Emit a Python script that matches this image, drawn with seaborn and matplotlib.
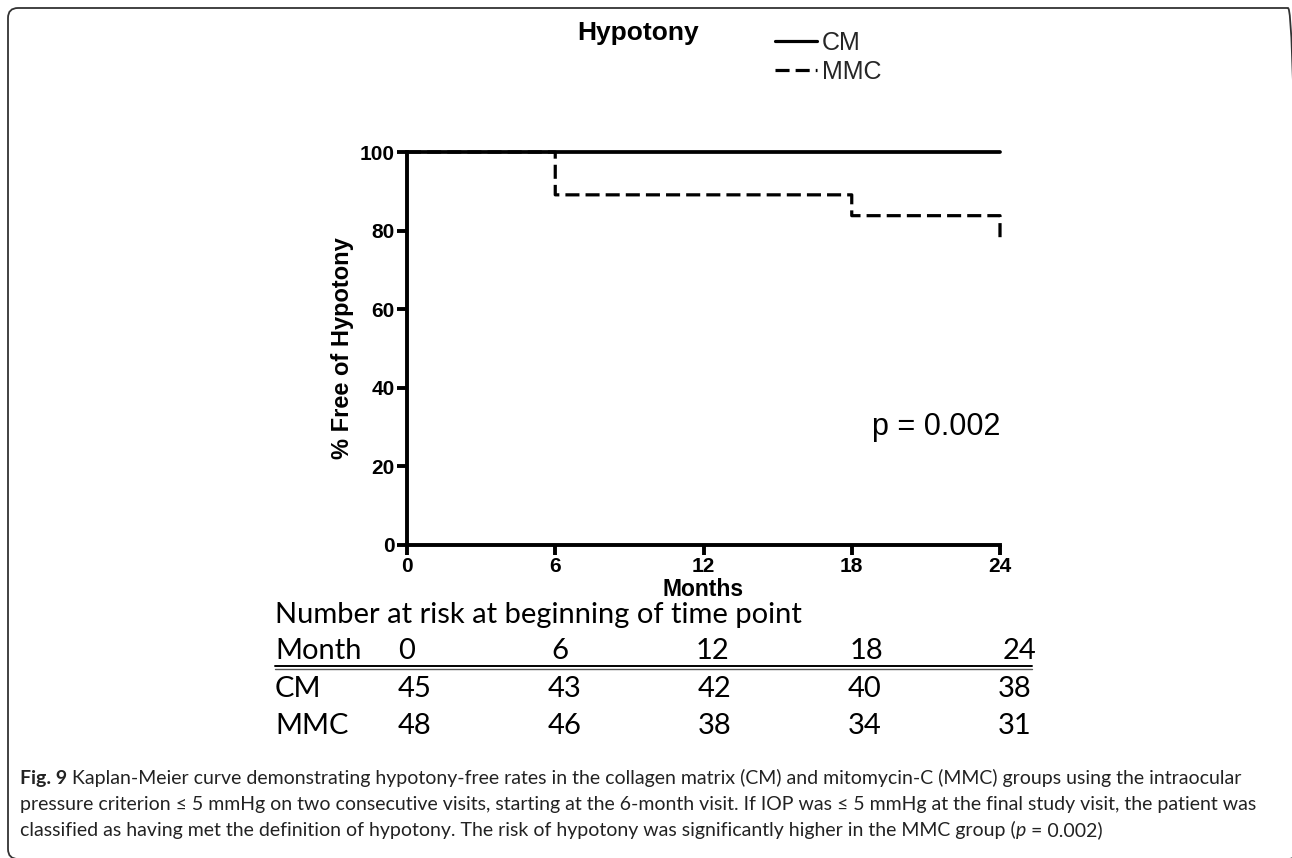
import matplotlib
matplotlib.use("Agg")
import matplotlib.pyplot as plt
import matplotlib.transforms as mtransforms
from matplotlib.patches import FancyBboxPatch
from matplotlib.lines import Line2D
import pandas as pd
import seaborn as sns

# ---------------- data ----------------
months = [0, 6, 12, 18, 24]
cm_time = [0, 24]
cm_surv = [100, 100]
mmc_time = [0, 6, 18, 24]
mmc_surv = [100, 89.1, 83.8, 78.0]
groups = ["CM", "MMC"]
risk_cm = [45, 43, 42, 40, 38]
risk_mmc = [48, 46, 38, 34, 31]
yticks = [0, 20, 40, 60, 80, 100]
title = "Hypotony"
p_text = "p = 0.002"
risk_title = "Number at risk at beginning of time point"
risk_header = "Month"
caption_bold = "Fig. 9"
caption_lines = [
    " Kaplan-Meier curve demonstrating hypotony-free rates in the collagen matrix (CM) and mitomycin-C (MMC) groups using the intraocular",
    "pressure criterion \u2264 5 mmHg on two consecutive visits, starting at the 6-month visit. If IOP was \u2264 5 mmHg at the final study visit, the patient was",
    "classified as having met the definition of hypotony. The risk of hypotony was significantly higher in the MMC group (",
]
caption_end_italic = "p"
caption_end = " = 0.002)"

# ---------------- setup ----------------
W, H = 1292, 858
sns.set_theme(style="ticks")
plt.rcParams["font.family"] = ["Liberation Sans", "DejaVu Sans"]
TABLE_FONT = ["Lato", "DejaVu Sans"]
CAP_FONT = ["Lato", "DejaVu Sans"]

fig = plt.figure(figsize=(W / 100, H / 100), dpi=100)
fig.patch.set_facecolor("white")


def fx(x):
    return x / W


def fy(y):
    return 1 - y / H


ax = fig.add_axes([fx(407), fy(545), fx(1000) - fx(407), fy(152) - fy(545)])
ax.set_facecolor("white")

df = pd.DataFrame({
    "Months": cm_time + mmc_time,
    "Surv": cm_surv + mmc_surv,
    "Group": ["CM"] * len(cm_time) + ["MMC"] * len(mmc_time),
})
sns.lineplot(data=df, x="Months", y="Surv", hue="Group", style="Group",
             palette={"CM": "black", "MMC": "black"},
             dashes={"CM": "", "MMC": (4.4, 1.9)},
             drawstyle="steps-post", estimator=None, linewidth=2.3,
             ax=ax, legend=True)
for ln in ax.lines:
    ln.set_clip_on(False)
    ln.set_snap(False)
if len(ax.lines) >= 2:
    ax.lines[0].set_zorder(3)
    ax.lines[0].set_linewidth(2.7)
    ax.lines[1].set_zorder(2)

handles, labels = ax.get_legend_handles_labels()
ax.get_legend().remove()
fig.legend(handles, labels, loc="upper left", bbox_to_anchor=(fx(775), fy(31)),
           frameon=False, fontsize=18, handlelength=1.66, handletextpad=0.2,
           labelspacing=0.2, borderpad=0, borderaxespad=0)

ax.set_xlim(0, 24)
ax.set_ylim(0, 100)
ax.set_xticks(months)
ax.set_yticks(yticks)
for s in ["top", "right"]:
    ax.spines[s].set_visible(False)
for s in ["left", "bottom"]:
    ax.spines[s].set_linewidth(2.8)
    ax.spines[s].set_color("black")
ax.tick_params(direction="out", length=7, width=2.8, colors="black",
               labelsize=15, pad=2)
for lab in ax.get_xticklabels() + ax.get_yticklabels():
    lab.set_fontweight("bold")
ax.set_xlabel("Months", fontsize=16.5, fontweight="bold", labelpad=1, color="black")
ax.set_ylabel("% Free of Hypotony", fontsize=17, fontweight="bold", labelpad=4, color="black")

ax.text(24, 30, p_text, ha="right", va="center", fontsize=22, color="black")

fig.text(fx(638), fy(33), title, ha="center", va="center", fontsize=19,
         fontweight="bold", color="black")

# ---------------- risk table ----------------
TFS = 21
tx0 = fx(275)
fig.text(tx0, fy(615), risk_title, va="center", ha="left", fontsize=TFS,
         family=TABLE_FONT, color="black")
fig.text(tx0, fy(651), risk_header, va="center", ha="left", fontsize=TFS,
         family=TABLE_FONT, color="black")
for m in months:
    fig.text(fx(407 + 25.5 * m), fy(651), str(m), va="center", ha="center",
             fontsize=TFS, family=TABLE_FONT, color="black")
fig.add_artist(Line2D([tx0, fx(1032)], [fy(666), fy(666)], color="black", lw=1.4))
fig.add_artist(Line2D([tx0, fx(1032)], [fy(669), fy(669)], color="#555555", lw=1.0))
for row_y, name, vals in [(689, groups[0], risk_cm), (726, groups[1], risk_mmc)]:
    fig.text(tx0, fy(row_y), name, va="center", ha="left", fontsize=TFS,
             family=TABLE_FONT, color="black")
    for m, v in zip(months, vals):
        fig.text(fx(415 + 25.0 * m), fy(row_y), str(v), va="center",
                 ha="center", fontsize=TFS, family=TABLE_FONT, color="black")

# ---------------- caption ----------------
renderer = fig.canvas.get_renderer()
cap_kw = dict(fontsize=14, family=CAP_FONT, color="#222222", va="baseline")
cap_y = [784, 810, 836]
tb = fig.text(fx(20), fy(cap_y[0]), caption_bold, fontweight="bold", **cap_kw)
bb = tb.get_window_extent(renderer)
fig.text(bb.x1 / W, fy(cap_y[0]), caption_lines[0], **cap_kw)
fig.text(fx(20), fy(cap_y[1]), caption_lines[1], **cap_kw)
t3 = fig.text(fx(20), fy(cap_y[2]), caption_lines[2], **cap_kw)
bb3 = t3.get_window_extent(renderer)
t4 = fig.text(bb3.x1 / W, fy(cap_y[2]), caption_end_italic, style="italic", **cap_kw)
bb4 = t4.get_window_extent(renderer)
fig.text(bb4.x1 / W, fy(cap_y[2]), caption_end, **cap_kw)

# ---------------- border ----------------
border = FancyBboxPatch((8, -1), 1290, H - 8 + 1,
                        boxstyle="round,pad=0,rounding_size=10",
                        transform=mtransforms.IdentityTransform(),
                        facecolor="none", edgecolor="#333333", linewidth=1.3)
fig.add_artist(border)

fig.savefig("out.png", dpi=100, facecolor="white")
